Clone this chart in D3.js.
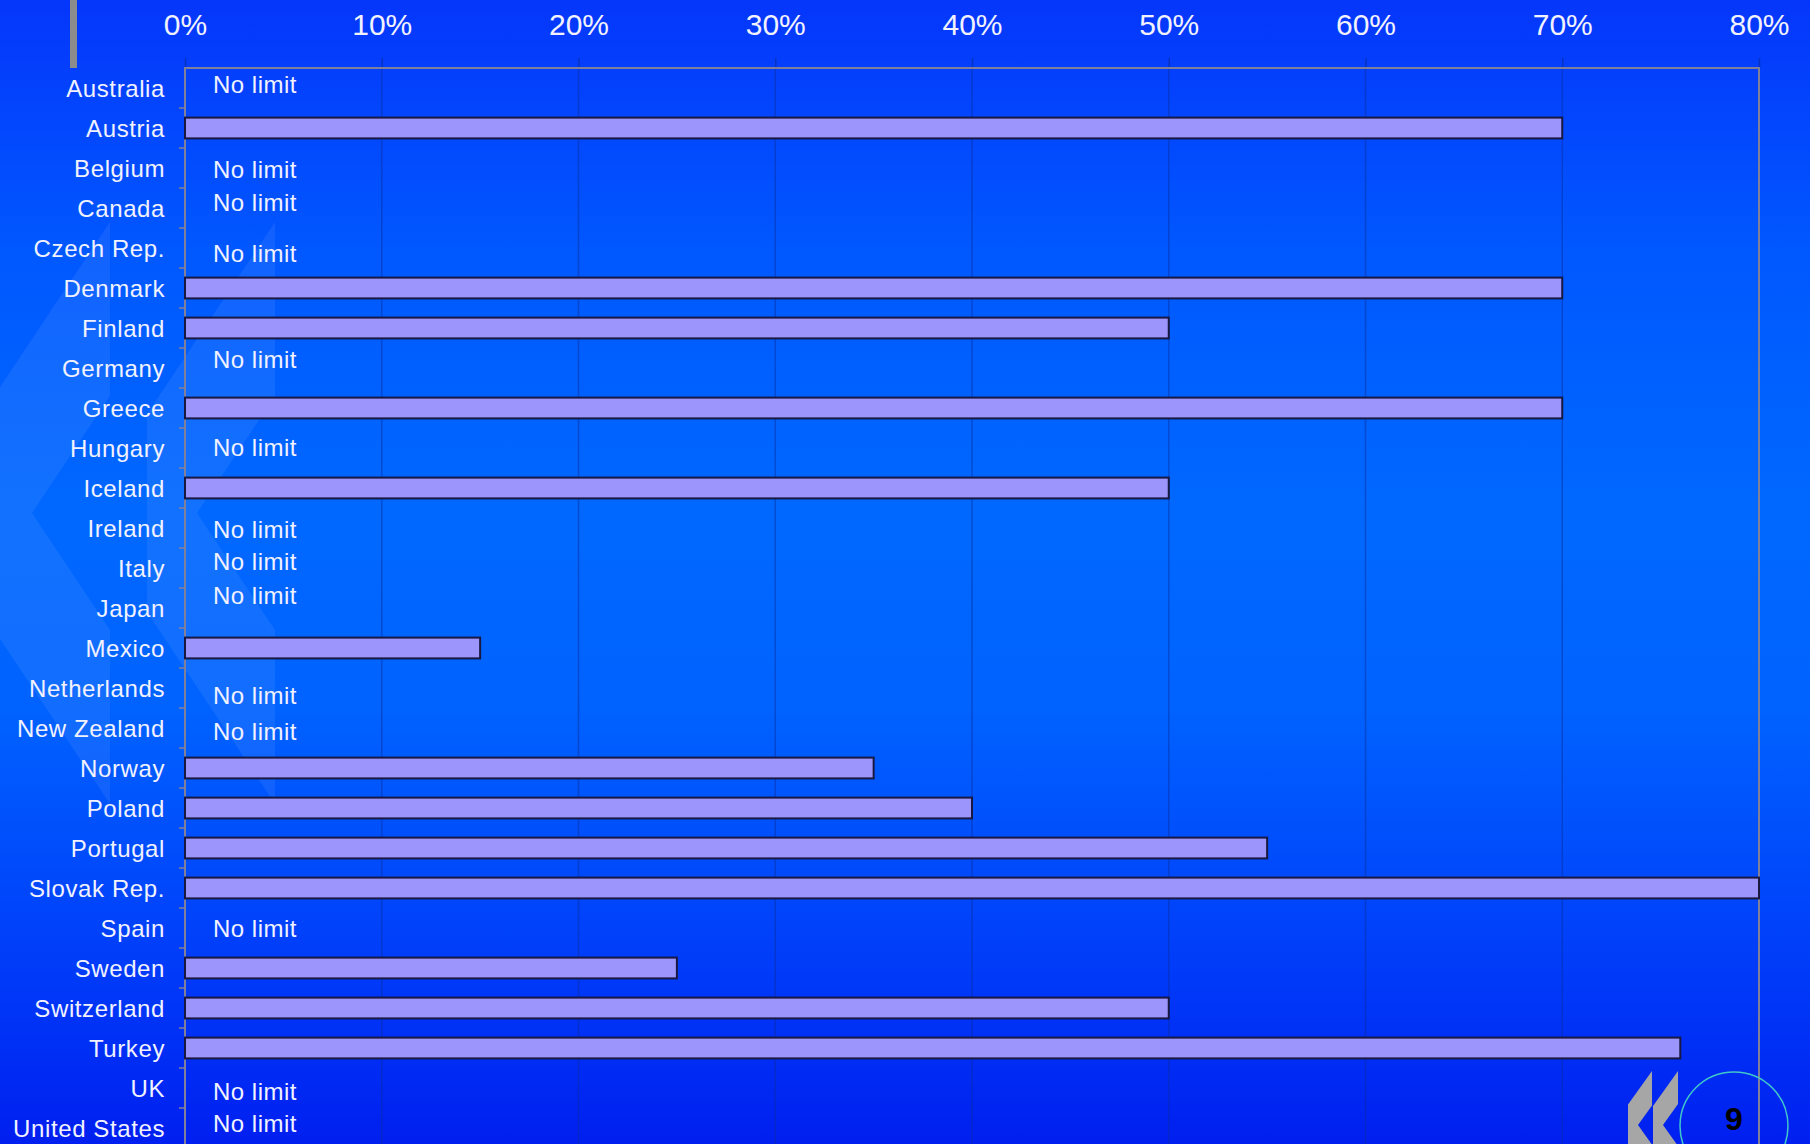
<!DOCTYPE html>
<html>
<head>
<meta charset="utf-8">
<script src="https://cdn.jsdelivr.net/npm/d3@7"></script>
<style>
  html, body { margin: 0; padding: 0; background: #0038fb; overflow: hidden; }
  svg { display: block; font-family: "Liberation Sans", Arial, sans-serif; }
</style>
</head>
<body>
<div id="chart"></div>
<script>
// countries, top to bottom
var countries = ["Australia", "Austria", "Belgium", "Canada", "Czech Rep.", "Denmark", "Finland",
  "Germany", "Greece", "Hungary", "Iceland", "Ireland", "Italy", "Japan", "Mexico", "Netherlands",
  "New Zealand", "Norway", "Poland", "Portugal", "Slovak Rep.", "Spain", "Sweden", "Switzerland",
  "Turkey", "UK", "United States"];

// limit in % (null = no limit)
var limits = [null, 70, null, null, null, 70, 50, null, 70, null, 50, null, null, null, 15, null,
  null, 35, 40, 55, 80, null, 25, 50, 76, null, null];

var xTicks = [0, 10, 20, 30, 40, 50, 60, 70, 80];
var noteText = "No limit";
var pageNumber = "9";

// hand placed "No limit" labels sit a little off the row centre in the original
var noteNudge = {"Australia": -3.5, "Belgium": 1, "Canada": -6, "Czech Rep.": 5, "Germany": -9,
  "Hungary": -1, "Ireland": 1, "Italy": -7, "Japan": -13, "Netherlands": 7, "New Zealand": 3.5,
  "Spain": 0, "UK": 3.5, "United States": -4.5};

var width = 1810, height = 1144;
var plotLeft = 185, plotRight = 1759, plotTop = 68, step = 40;

var rows = countries.map(function(c, i) { return {name: c, value: limits[i]}; });

var svg = d3.select("#chart").append("svg")
    .attr("width", width)
    .attr("height", height);

var defs = svg.append("defs");
var grad = defs.append("linearGradient")
    .attr("id", "bg").attr("x1", 0).attr("y1", 0).attr("x2", 0).attr("y2", 1);
[["0%", "#0536fb"], ["22%", "#0058ff"], ["45%", "#0068ff"], ["62%", "#0062ff"],
 ["82%", "#0040fa"], ["100%", "#001ff0"]].forEach(function(s) {
  grad.append("stop").attr("offset", s[0]).attr("stop-color", s[1]);
});

svg.append("rect").attr("width", width).attr("height", height).attr("fill", "url(#bg)");

// faint double chevron watermark
function chevron(xR, xL, topY, notchX, notchY, slope) {
  var yL = topY + (xR - xL) * slope;
  var bottomY = 2 * notchY - topY;
  var d = notchY - (xR - notchX) * slope;
  return [[xR, topY], [xL, yL], [xL, 2 * notchY - yL], [xR, bottomY],
          [xR, 2 * notchY - d], [notchX, notchY], [xR, d]];
}
var deco = svg.append("g").attr("fill", "#ffffff").attr("fill-opacity", 0.07);
[chevron(110, -18, 222, 32, 513, 1.5), chevron(275, 147, 222, 197, 513, 1.5)].forEach(function(p) {
  deco.append("polygon").attr("points", p.map(function(q) { return q.join(","); }).join(" "));
});

var x = d3.scaleLinear().domain([0, 80]).range([plotLeft, plotRight]);
var y = d3.scaleBand()
    .domain(countries)
    .range([plotTop, plotTop + step * countries.length])
    .paddingInner(0.48)
    .paddingOuter(0.24);

// grid
svg.append("g")
  .selectAll("line")
  .data(xTicks.slice(1, -1))
  .enter().append("line")
    .attr("x1", function(d) { return x(d); })
    .attr("x2", function(d) { return x(d); })
    .attr("y1", plotTop)
    .attr("y2", height)
    .attr("stroke", "#0a2c9a")
    .attr("stroke-opacity", 0.45)
    .attr("stroke-width", 1.5);

// top axis
var axisX = d3.axisTop(x)
    .tickValues(xTicks)
    .tickFormat(function(d) { return d + "%"; })
    .tickSizeInner(10)
    .tickSizeOuter(0)
    .tickPadding(23);

var gx = svg.append("g")
    .attr("transform", "translate(0," + plotTop + ")")
    .call(axisX);
gx.select(".domain").remove();
gx.selectAll(".tick line").attr("stroke", "#0a2c9a").attr("stroke-opacity", 0.6).attr("stroke-width", 1.5);
gx.selectAll(".tick text")
    .attr("fill", "#f2f2ff")
    .style("font-size", "30px")
    .style("font-family", "'Liberation Sans', Arial, sans-serif");

// plot frame
svg.append("path")
    .attr("d", "M" + plotLeft + "," + height + "V" + plotTop + "H" + plotRight + "V" + height)
    .attr("fill", "none")
    .attr("stroke", "#80809a")
    .attr("stroke-width", 2);

// left ticks at row boundaries
svg.append("g")
  .selectAll("line")
  .data(countries.slice(1))
  .enter().append("line")
    .attr("x1", plotLeft - 6)
    .attr("x2", plotLeft)
    .attr("y1", function(d) { return y(d) - y.step() * y.paddingInner() / 2; })
    .attr("y2", function(d) { return y(d) - y.step() * y.paddingInner() / 2; })
    .attr("stroke", "#80809a")
    .attr("stroke-width", 1.5);

// grey stub at top left
svg.append("rect")
    .attr("x", 70).attr("y", 0).attr("width", 7).attr("height", plotTop)
    .attr("fill", "#8c8c8c");

// country labels
svg.append("g")
  .selectAll("text")
  .data(countries)
  .enter().append("text")
    .attr("x", plotLeft - 20)
    .attr("y", function(d) { return y(d) + y.bandwidth() / 2; })
    .attr("dy", "0.36em")
    .attr("text-anchor", "end")
    .attr("fill", "#f2f2ff")
    .style("font-size", "24px")
    .style("letter-spacing", "0.6px")
    .text(function(d) { return d; });

// bars
svg.append("g")
  .selectAll("rect")
  .data(rows.filter(function(r) { return r.value !== null; }))
  .enter().append("rect")
    .attr("x", x(0))
    .attr("y", function(d) { return y(d.name); })
    .attr("width", function(d) { return x(d.value) - x(0); })
    .attr("height", y.bandwidth())
    .attr("fill", "#9c95fc")
    .attr("stroke", "#181840")
    .attr("stroke-width", 2);

// "No limit" notes
svg.append("g")
  .selectAll("text")
  .data(rows.filter(function(r) { return r.value === null; }))
  .enter().append("text")
    .attr("x", x(0) + 28)
    .attr("y", function(d) { return y(d.name) + y.bandwidth() / 2 + (noteNudge[d.name] || 0); })
    .attr("dy", "0.36em")
    .attr("fill", "#f2f2ff")
    .style("font-size", "24px")
    .style("letter-spacing", "0.5px")
    .text(noteText);

// logo + page number, bottom right
var logo = svg.append("g").attr("fill", "#a6a6a6");
[chevron(1652, 1628, 1071, 1638, 1125, 1.4), chevron(1678, 1653, 1071, 1663, 1125, 1.4)].forEach(function(p) {
  logo.append("polygon").attr("points", p.map(function(q) { return q.join(","); }).join(" "));
});
svg.append("circle")
    .attr("cx", 1734).attr("cy", 1126).attr("r", 54)
    .attr("fill", "none")
    .attr("stroke", "#40c8c8")
    .attr("stroke-width", 1.5);
svg.append("text")
    .attr("x", 1734).attr("y", 1130)
    .attr("text-anchor", "middle")
    .attr("fill", "#000")
    .style("font-size", "32px")
    .style("font-weight", "bold")
    .text(pageNumber);
</script>
</body>
</html>
